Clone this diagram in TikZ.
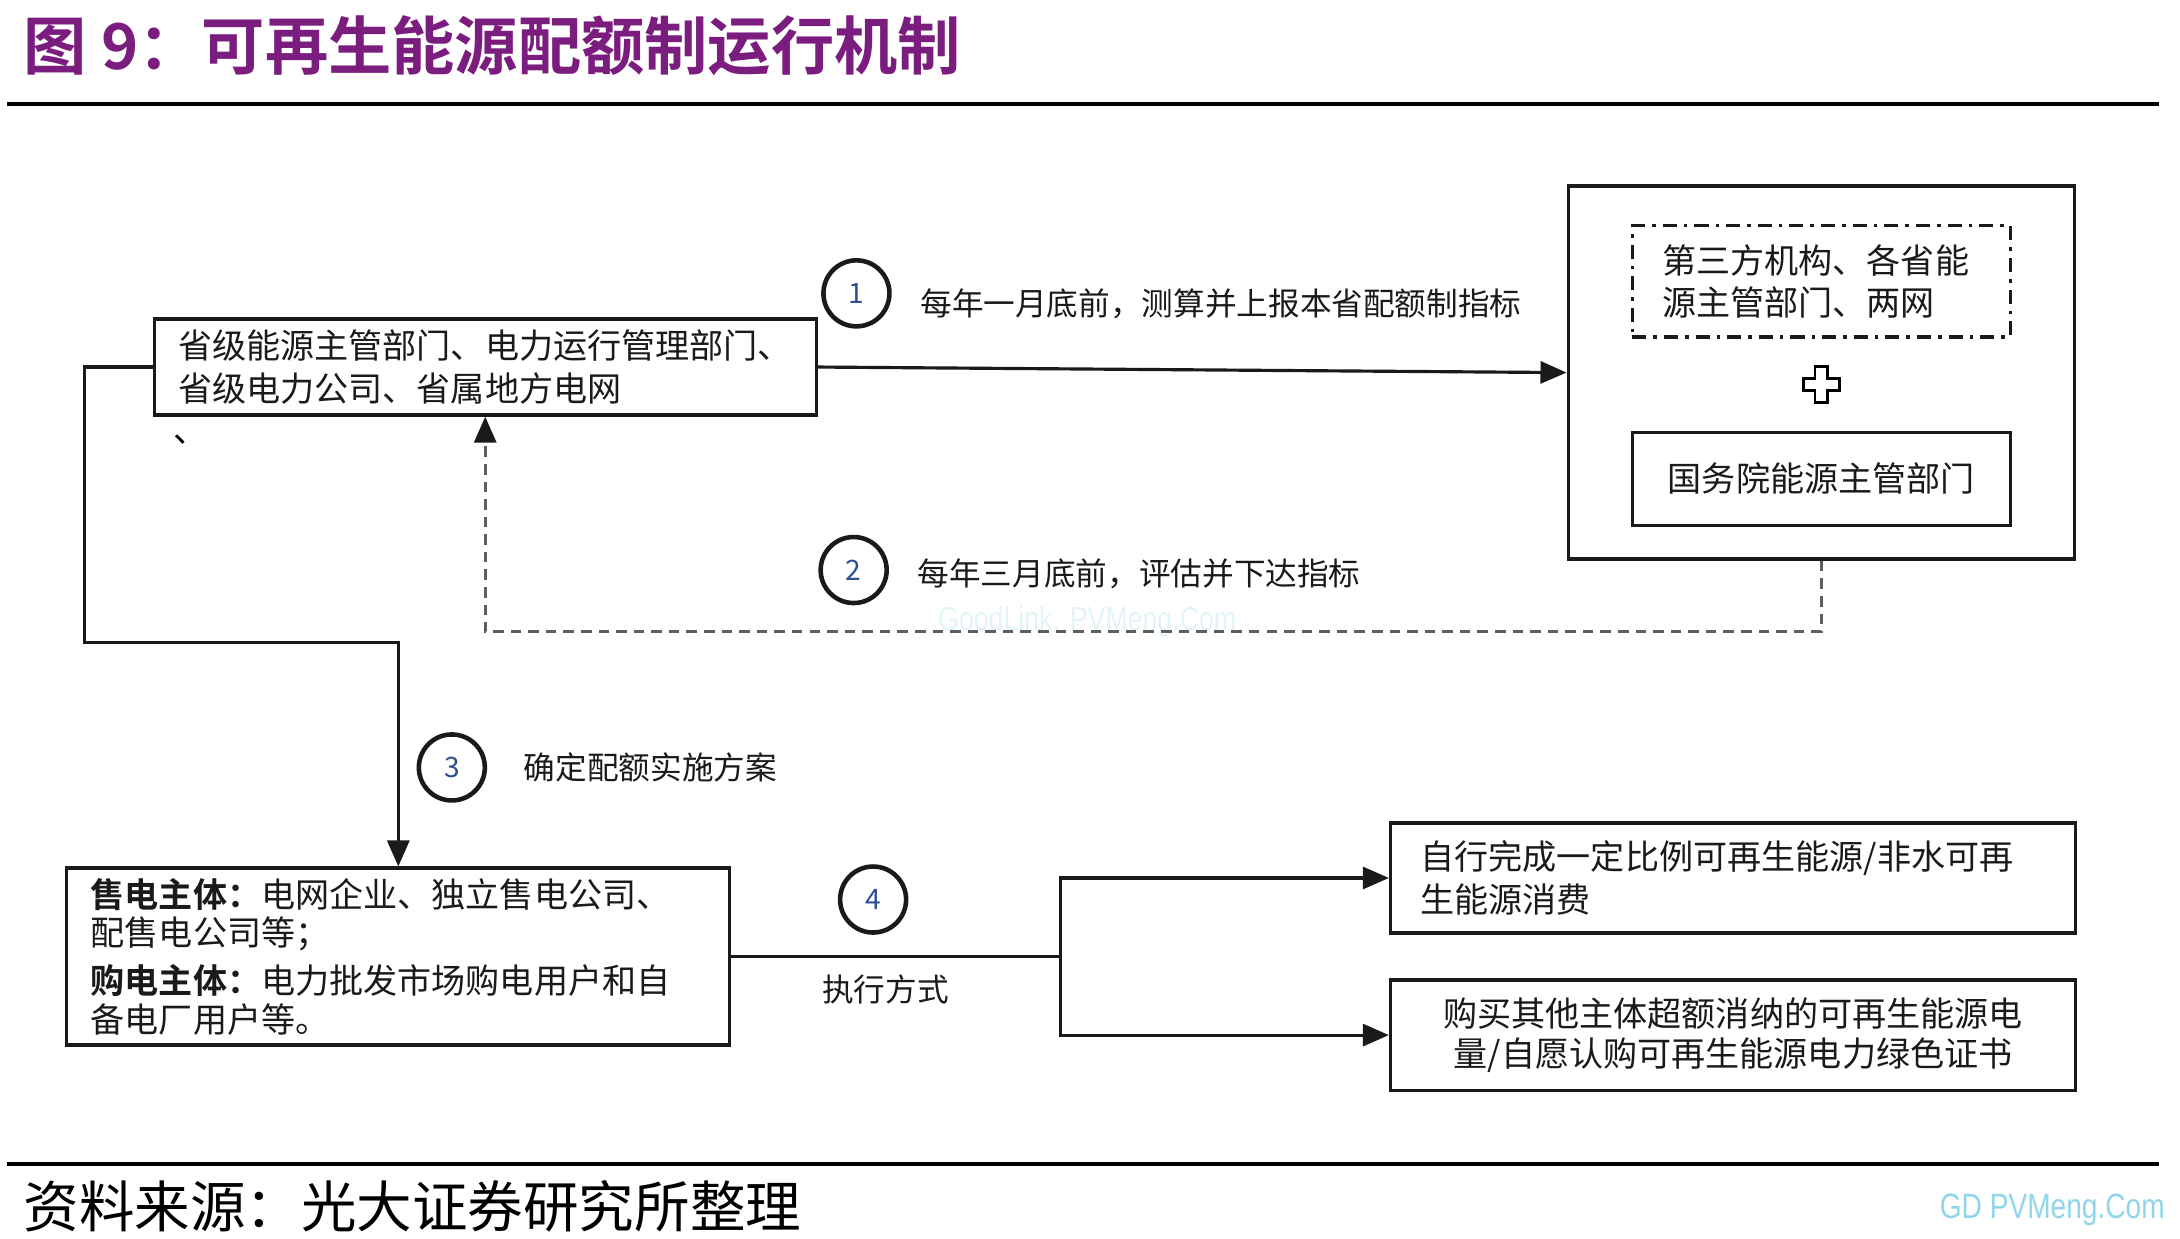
\documentclass[tikz,border=0pt]{standalone}
\usepackage{fontspec}
\setmainfont{Noto Sans CJK SC}[BoldFont={Noto Sans CJK SC Bold}]
\newfontfamily\markfont[FakeStretch=0.8]{Liberation Sans}
\usepackage{xcolor}
\usetikzlibrary{arrows.meta,positioning}
\definecolor{ink}{HTML}{1A1A1A}
\definecolor{plum}{HTML}{7B1C7F}
\definecolor{numblue}{HTML}{2E4F91}
\definecolor{dashgray}{HTML}{5E5E5E}
\definecolor{wmark}{HTML}{8FD6EA}
\definecolor{wfaint}{HTML}{E2F4F7}
\newcommand{\sellside}{\textbf{售电主体：}}
\newcommand{\buyside}{\textbf{购电主体：}}

\begin{document}
\begin{tikzpicture}[
  x=0.139mm,y=-0.139mm,
  node distance=4mm,
  box/.style={draw=ink,line width=0.9pt,fill=white,inner xsep=2.4mm,inner ysep=1mm,font=\fontsize{9.7}{12.2}\selectfont,text=ink},
  num/.style={circle,draw=ink,line width=1.3pt,minimum size=6.6mm,inner sep=0pt,font=\fontsize{8}{8}\selectfont,text=numblue},
  lab/.style={inner sep=0.5mm,font=\fontsize{9}{10}\selectfont,text=ink},
  arr/.style={-{Triangle[length=2.6mm,width=2.2mm]},line width=0.9pt,draw=ink},
  back/.style={-{Triangle[length=2.6mm,width=2.2mm,color=ink]},line width=0.9pt,draw=dashgray,dash pattern=on 3pt off 2pt}
]
\useasboundingbox (0,0) rectangle (1568,891);
\node[anchor=west,font=\bfseries\fontsize{18}{18}\selectfont,text=plum] (title) at (8,33) {图 9：可再生能源配额制运行机制};
\draw[line width=1.2pt] (5,75) -- (1553,75);
\draw[line width=1.2pt] (5,837) -- (1553,837);
\node[anchor=west,font=\fontsize{15.8}{16}\selectfont] (src) at (8,868) {资料来源：光大证券研究所整理};
\node[anchor=east,text=wmark,font=\markfont\fontsize{10}{10}\selectfont] (gd) at (1566,870) {GD PVMeng.Com};
\node[text=wfaint,font=\markfont\fontsize{9.5}{10}\selectfont] (wm) at (782,447) {GoodLink. PVMeng.Com};

% top row
\node[box,text width=61.4mm,minimum height=9.6mm,align=left] (prov) at (349,264) {省级能源主管部门、电力运行管理部门、\\省级电力公司、省属地方电网};
\node[font=\fontsize{9.7}{10}\selectfont] (tick) at (137,316) {、};
\node[draw=ink,line width=1pt,minimum width=50.6mm,minimum height=37.3mm] (nea) at (1310,268) {};
\node[box,dash pattern=on 4pt off 2pt on 1pt off 2pt,inner xsep=3mm,text width=31.8mm,minimum height=11.1mm,align=left,below=4mm of nea.north] (third) {第三方机构、各省能\\源主管部门、两网};
\node[box,minimum width=37.8mm,minimum height=9.3mm,below=9.2mm of third] (state) {国务院能源主管部门};
\coordinate[below=4.6mm of third] (plus);
\draw[fill=white,line width=0.8pt] (plus) ++(-4.5,-13) -- ++(9,0) -- ++(0,8.5) -- ++(8.5,0) -- ++(0,9) -- ++(-8.5,0) -- ++(0,8.5) -- ++(-9,0) -- ++(0,-8.5) -- ++(-8.5,0) -- ++(0,-9) -- ++(8.5,0) -- cycle;

\node[num] (c1) at (616,211) {1};
\node[lab,right=2.3mm of c1,yshift=-1mm] (lab1) {每年一月底前，测算并上报本省配额制指标};
\node[num] (c2) at (614,410) {2};
\node[lab,right=2.3mm of c2,yshift=-0.4mm] (lab2) {每年三月底前，评估并下达指标};
\node[num] (c3) at (325,552) {3};
\node[lab,right=3.1mm of c3] (lab3) {确定配额实施方案};

% bottom row
\node[box,text width=61.5mm,minimum height=17.2mm,align=left,font=\fontsize{9.7}{11}\selectfont] (sell) at (286.5,688) {\sellside 电网企业、独立售电公司、\\配售电公司等；\\[0.9mm]\buyside 电力批发市场购电用户和自\\备电厂用户等。};
\node[box,inner xsep=3mm,text width=62.5mm,minimum height=11mm,align=left] (self) at (1246.5,631.5) {自行完成一定比例可再生能源/非水可再\\生能源消费};
\node[box,inner xsep=3mm,text width=62.5mm,minimum height=11mm,align=center,font=\fontsize{9.7}{11.4}\selectfont] (buy) at (1246.5,744.5) {购买其他主体超额消纳的可再生能源电\\量/自愿认购可再生能源电力绿色证书};
\node[num] (c4) at (628,647) {4};
\node[lab] (lab4) at (637,712) {执行方式};
\coordinate (bend) at (61,462);
\coordinate (split) at (763,688);

\draw[arr] (prov.east) -- (nea.west);
\draw[back] (nea.south) -- ++(0,51) -| (prov.south);
\draw[arr] (prov.west) -| (bend) -| (sell.north);
\draw[line width=0.9pt,draw=ink] (sell.east) -- (split);
\draw[arr] (split) |- (self.west);
\draw[arr] (split) |- (buy.west);
\end{tikzpicture}
\end{document}
